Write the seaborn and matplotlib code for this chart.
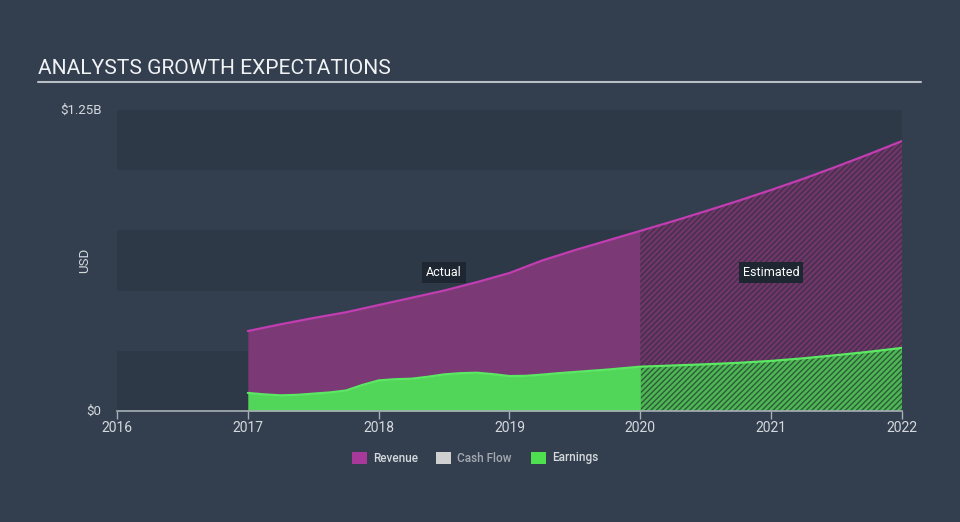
import matplotlib
matplotlib.use("Agg")
import matplotlib.pyplot as plt
import seaborn as sns
import pandas as pd
from matplotlib.patches import Rectangle

# ---- data (values in $ billions) ----
rev_years = [2017.0, 2017.25, 2017.5, 2017.75, 2018.0, 2018.25, 2018.5, 2018.75,
             2019.0, 2019.25, 2019.5, 2019.75, 2020.0]
actual_revenue = [0.332, 0.36, 0.386, 0.41, 0.44, 0.47, 0.50, 0.535,
                  0.573, 0.625, 0.668, 0.708, 0.748]

earn_years = [2017.0, 2017.125, 2017.25, 2017.375, 2017.5, 2017.625, 2017.75, 2017.875,
              2018.0, 2018.125, 2018.25, 2018.375, 2018.5, 2018.625, 2018.75, 2018.875,
              2019.0, 2019.125, 2019.25, 2019.375, 2019.5, 2019.625, 2019.75, 2019.875,
              2020.0]
actual_earnings = [0.075, 0.069, 0.065, 0.067, 0.072, 0.077, 0.085, 0.108,
                   0.127, 0.132, 0.134, 0.142, 0.152, 0.157, 0.159, 0.153,
                   0.145, 0.146, 0.151, 0.157, 0.162, 0.167, 0.172, 0.178,
                   0.184]

est_years = [2020.0, 2020.25, 2020.5, 2020.75, 2021.0, 2021.25, 2021.5, 2021.75, 2022.0]
est_revenue = [0.748, 0.788, 0.83, 0.873, 0.918, 0.965, 1.015, 1.067, 1.121]
est_earnings = [0.184, 0.189, 0.194, 0.200, 0.208, 0.219, 0.232, 0.246, 0.262]

x_ticks = [2016, 2017, 2018, 2019, 2020, 2021, 2022]
y_tick_labels = ["$0", "$1.25B"]
legend_labels = ["Revenue", "Cash Flow", "Earnings"]

# ---- style ----
BG = "#333F4F"
BAND = "#2D3947"
TXT = "#D5D9DE"
REV_FILL = "#7B3A75"
REV_LINE = "#C23DB2"
EARN_FILL = "#52D65A"
EARN_LINE = "#5BE862"

sns.set_theme(style="dark")
plt.rcParams["font.family"] = ["Roboto", "DejaVu Sans"]
plt.rcParams["hatch.linewidth"] = 1.0

fig = plt.figure(figsize=(9.6, 5.22), dpi=100, facecolor=BG)
ax = fig.add_axes([117 / 960, 1 - 411 / 522, (902 - 117) / 960, (411 - 110) / 522])
ax.set_facecolor(BG)

ax.set_xlim(2016, 2022)
ax.set_ylim(0, 1.25)

# stripes
for lo in [0.0, 0.5, 1.0]:
    ax.axhspan(lo, lo + 0.25, color=BAND, zorder=0, lw=0)

rev = pd.DataFrame({"year": rev_years, "value": actual_revenue})
earn = pd.DataFrame({"year": earn_years, "value": actual_earnings})
est = pd.DataFrame({"year": est_years, "Revenue": est_revenue, "Earnings": est_earnings})

# actual fills
ax.fill_between(rev["year"], 0, rev["value"], color=REV_FILL, lw=0, zorder=2)
ax.fill_between(earn["year"], 0, earn["value"], color=EARN_FILL, lw=0, zorder=2.1)
# estimated fills (hatched)
ax.fill_between(est["year"], est["Earnings"], est["Revenue"], facecolor="#70366A",
                edgecolor="#42304A", hatch="//////", lw=0, zorder=2)
ax.fill_between(est["year"], 0, est["Earnings"], facecolor="#4DB853",
                edgecolor="#2F5A3A", hatch="//////", lw=0, zorder=2)

# lines via seaborn
rev_line = pd.concat([rev, est[["year", "Revenue"]].rename(columns={"Revenue": "value"}).iloc[1:]],
                     ignore_index=True)
earn_line = pd.concat([earn, est[["year", "Earnings"]].rename(columns={"Earnings": "value"}).iloc[1:]],
                      ignore_index=True)
sns.lineplot(data=rev_line, x="year", y="value", ax=ax, color=REV_LINE, lw=1.6, zorder=3)
sns.lineplot(data=earn_line, x="year", y="value", ax=ax, color=EARN_LINE, lw=1.6, zorder=3)

# axes styling
for s in ["top", "right", "left"]:
    ax.spines[s].set_visible(False)
ax.spines["bottom"].set_color("#A7AEB6")
ax.spines["bottom"].set_linewidth(1.2)
ax.spines["bottom"].set_zorder(5)
ax.set_xticks(x_ticks)
ax.set_xticklabels([str(t) for t in x_ticks], color=TXT, fontsize=10)
ax.tick_params(axis="x", length=6, width=1, color="#A7AEB6", pad=1, bottom=True)
ax.set_yticks([0, 1.25])
ax.set_yticklabels(y_tick_labels, color=TXT, fontsize=9.5)
ax.tick_params(axis="y", length=0, pad=11)
for lbl in ax.get_yticklabels():
    lbl.set_verticalalignment("center")
ax.set_xlabel("")
ax.set_ylabel("USD", color=TXT, fontsize=9.5)
ax.yaxis.set_label_coords((91 - 117) / 785, 0.5)
ax.grid(False)

# Actual / Estimated tags
box = dict(boxstyle="square,pad=0.3", fc="#1E2631", ec="none")
ax.text(2018.5, 0.575, "Actual", color="white", fontsize=9, ha="center", va="center", bbox=box, zorder=6)
ax.text(2021.0, 0.575, "Estimated", color="white", fontsize=9, ha="center", va="center", bbox=box, zorder=6)

# title with underline
fig.text(38 / 960, 1 - 69 / 522, "ANALYSTS GROWTH EXPECTATIONS", color="#F0F2F4",
         fontsize=15.1, ha="left", va="center")
fig.add_artist(plt.Line2D([38 / 960, 921 / 960], [1 - 82 / 522, 1 - 82 / 522],
                          color="#B9BEC5", lw=1.5))

# legend
leg_y = 1 - 458 / 522
items = [(352, "#A8389A", legend_labels[0], TXT),
         (436, "#D0D0D0", legend_labels[1], "#A4A9B0"),
         (531, "#4FE050", legend_labels[2], TXT)]
for x0, c, lab, tc in items:
    fig.add_artist(Rectangle((x0 / 960, leg_y - 6 / 522), 15 / 960, 12 / 522,
                             transform=fig.transFigure, color=c, lw=0))
    fig.text((x0 + 21) / 960, leg_y, lab, color=tc, fontsize=8.5, va="center", ha="left",
             fontweight="medium")

fig.savefig("out.png", dpi=100, facecolor=BG)
